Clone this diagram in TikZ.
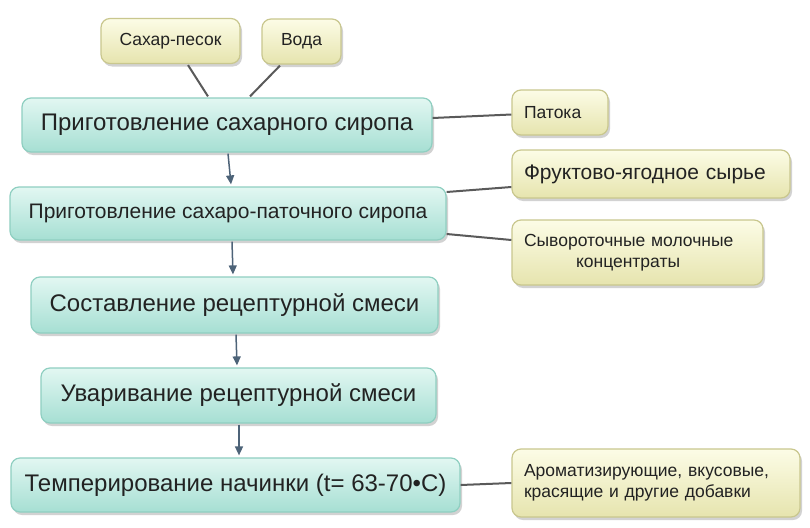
\documentclass[tikz,border=0pt]{standalone}
\usepackage{fontspec}
\setmainfont{Liberation Sans}
\usetikzlibrary{shadows,calc,arrows.meta}
\definecolor{tealtop}{HTML}{E2F7F2}
\definecolor{tealbot}{HTML}{A6DFD3}
\definecolor{tealbd}{HTML}{8FCFC1}
\definecolor{yeltop}{HTML}{FCFCE6}
\definecolor{yelbot}{HTML}{E6E4AE}
\definecolor{yelbd}{HTML}{C9C78E}
\definecolor{linkc}{HTML}{5A5A5A}
\definecolor{arrc}{HTML}{4D6378}
\definecolor{txt}{HTML}{222222}
\tikzset{
  mainbox/.style={draw=tealbd, line width=1.2pt, rounded corners=9pt, top color=tealtop, bottom color=tealbot,
    drop shadow={shadow xshift=2pt, shadow yshift=-3pt, opacity=0.35}, text=txt, inner sep=0pt,
    font=\fontsize{24}{28}\selectfont},
  subbox/.style={draw=yelbd, line width=1.2pt, rounded corners=9pt, top color=yeltop, bottom color=yelbot,
    drop shadow={shadow xshift=2pt, shadow yshift=-3pt, opacity=0.35}, text=txt, inner sep=0pt,
    font=\fontsize{17.5}{21}\selectfont},
  link/.style={draw=linkc, line width=2pt},
  flow/.style={draw=arrc, line width=1.5pt, -{Triangle[length=9pt,width=8pt]}}
}
\begin{document}
\begin{tikzpicture}[x=1pt,y=-1pt]
\useasboundingbox[fill=white] (0,0) rectangle (810,527);
% main boxes
\node[mainbox, minimum width=410pt, minimum height=54pt] (m1) at (227,125) {Приготовление сахарного сиропа};
\node[mainbox, minimum width=436pt, minimum height=53pt, font=\fontsize{21}{25}\selectfont] (m2) at (228,213.5) {Приготовление сахаро-паточного сиропа};
\node[mainbox, minimum width=407pt, minimum height=56pt] (m3) at (234.5,305) {Составление рецептурной смеси};
\node[mainbox, minimum width=395pt, minimum height=55pt] (m4) at (238.5,395.5) {Уваривание рецептурной смеси};
\node[mainbox, minimum width=449pt, minimum height=54pt] (m5) at (235.5,485) {Темперирование начинки (t= 63-70•С)};
% side boxes
\node[subbox, minimum width=139pt, minimum height=45pt] (s1) at (170.5,41) {Сахар-песок};
\node[subbox, minimum width=79pt, minimum height=45pt] (s2) at (301.5,41.5) {Вода};
\node[subbox, minimum width=96pt, minimum height=45pt, text width=72pt, align=left] (s3) at (560,112.5) {Патока};
\node[subbox, minimum width=278pt, minimum height=48pt, text width=254pt, align=left, font=\fontsize{21}{25}\selectfont] (s4) at (651,174) {Фруктово-ягодное сырье};
\node[subbox, minimum width=251pt, minimum height=65pt, text width=227pt, align=left] (s5) at (637.5,252.5) {Сывороточные молочные\\ \hspace*{52pt}концентраты};
\node[subbox, minimum width=288pt, minimum height=68pt, text width=264pt, align=left] (s6) at (656,483) {Ароматизирующие, вкусовые,\\ красящие и другие добавки};
% links
\draw[link] ($(s1.south)+(17.5,1)$) -- ($(m1.north)+(-19,-1)$);
\draw[link] ($(s2.south)+(-21.5,1)$) -- ($(m1.north)+(23,-1)$);
\draw[link] ($(m1.east)+(0,-7)$) -- ($(s3.west)+(0,2)$);
\draw[link] ($(m2.east)+(0,-21.5)$) -- ($(s4.west)+(0,13)$);
\draw[link] ($(m2.east)+(0,20.5)$) -- ($(s5.west)+(0,-12.5)$);
\draw[link] (m5.east) -- (s6.west);
% arrows
\draw[flow] ($(m1.south)+(1,1)$) -- ($(m2.north)+(3,-2)$);
\draw[flow] ($(m2.south)+(4,1)$) -- ($(m3.north)+(-1.5,-2)$);
\draw[flow] ($(m3.south)+(1.5,1)$) -- ($(m4.north)+(-1.5,-2)$);
\draw[flow] ($(m4.south)+(0.5,1)$) -- ($(m5.north)+(3.5,-2)$);
\end{tikzpicture}
\end{document}
